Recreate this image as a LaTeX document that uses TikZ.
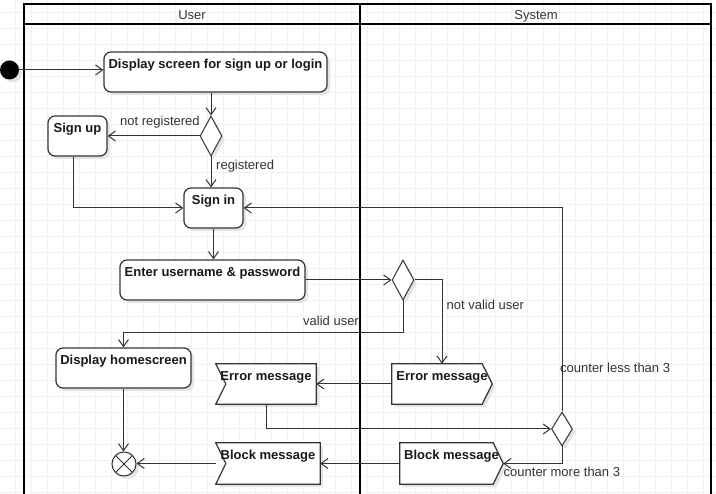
\documentclass[tikz,border=0pt]{standalone}
\usepackage{fontspec}
\setmainfont{Liberation Sans}
\usetikzlibrary{shapes.geometric,arrows.meta,shadows}
\pgfdeclarelayer{bg}
\pgfsetlayers{bg,main}
\definecolor{gridc}{HTML}{F1F1F1}
\definecolor{linec}{HTML}{333333}
\definecolor{txtc}{HTML}{333333}
\definecolor{shadc}{HTML}{E4E4E4}
\begin{document}
\begin{tikzpicture}[x=1pt,y=-1pt,
  font=\fontsize{13}{15}\selectfont,
  shad/.style={drop shadow={shadow xshift=3pt, shadow yshift=-3pt, fill=shadc, opacity=1}},
  act/.style={draw=linec, line width=1.2pt, fill=white, rounded corners=7pt, inner sep=0pt,
    font=\fontsize{13}{15}\selectfont\bfseries, text=black!90, text height=16.5pt, text depth=23.5pt, shad},
  sigtext/.style={inner sep=0pt, font=\fontsize{13}{15}\selectfont\bfseries, text=black!90, text height=16.5pt},
  dia/.style={diamond, draw=linec, line width=1pt, fill=white, inner sep=0pt, shad},
  endnode/.style={circle, draw=linec, line width=1pt, fill=white, minimum size=24pt, inner sep=0pt, shad,
    path picture={\draw[linec, line width=1pt] (path picture bounding box.north west) -- (path picture bounding box.south east)
      (path picture bounding box.north east) -- (path picture bounding box.south west);}},
  flow/.style={draw=linec, line width=1pt, -{Straight Barb[length=7pt,width=10pt,line width=1pt]}},
  lab/.style={text=txtc, inner sep=0pt, anchor=base west},
  sigline/.style={draw=linec, line width=1.2pt, fill=white},
  sigshadow/.style={fill=shadc, transform canvas={shift={(3pt,-3pt)}}}
]
\useasboundingbox (0,0) rectangle (716,494);
\begin{pgfonlayer}{bg}
  \fill[white] (0,0) rectangle (716,494);
  \foreach \i in {0,...,45} \draw[gridc, line width=1pt] (16*\i-0.3,0) -- (16*\i-0.3,494);
  \foreach \j in {0,...,30} \draw[gridc, line width=1pt] (0,12.3+16*\j) -- (716,12.3+16*\j);
  \draw[black, line width=2pt] (24,4) rectangle (711,500);
  \draw[black, line width=2pt] (24,24) -- (711,24);
  \draw[black, line width=2pt] (360,4) -- (360,500);
\end{pgfonlayer}

\node[text=txtc, anchor=base] (hUser) at (192,20) {User};
\node[text=txtc, anchor=base] (hSystem) at (536,20) {System};

\node[circle, fill=black, minimum size=19pt, inner sep=0pt, shad] (start) at (9.5,70) {};
\node[act, minimum width=223pt] (disp) at (215.5,72) {Display screen for sign up or login};
\node[dia, minimum width=22pt, minimum height=40pt] (d1) at (211,136) {};
\node[act, minimum width=59pt] (signup) at (77.5,136) {Sign up};
\node[act, minimum width=59pt] (signin) at (213.5,208) {Sign in};
\node[act, minimum width=185pt] (enter) at (212.5,280) {Enter username \& password};
\node[dia, minimum width=22pt, minimum height=40pt] (d2) at (403,280) {};
\node[act, minimum width=135pt] (home) at (123.5,368) {Display homescreen};

\node[sigtext, minimum width=100pt, text depth=23.5pt] (err2) at (442,384) {Error message};
\node[sigtext, minimum width=100pt, text depth=23.5pt] (err1) at (266,384) {Error message};
\node[dia, minimum width=21pt, minimum height=34pt] (d3) at (562,429) {};
\node[sigtext, minimum width=103pt, text depth=24.5pt] (blk2) at (451.5,463.5) {Block message};
\node[sigtext, minimum width=104pt, text depth=24.5pt] (blk1) at (268,463.5) {Block message};
\node[endnode] (endn) at (124,464) {};

\begin{pgfonlayer}{bg}
  % send signals (system lane)
  \foreach \n in {err2,blk2} {
    \fill[sigshadow] (\n.north west) -- ([xshift=-10pt]\n.north east) -- (\n.east) -- ([xshift=-10pt]\n.south east) -- (\n.south west) -- cycle;
    \path[sigline] (\n.north west) -- ([xshift=-10pt]\n.north east) -- (\n.east) -- ([xshift=-10pt]\n.south east) -- (\n.south west) -- cycle;
  }
  % receive signals (user lane)
  \foreach \n in {err1,blk1} {
    \fill[sigshadow] (\n.north west) -- (\n.north east) -- (\n.south east) -- (\n.south west) -- ([xshift=10pt]\n.west) -- cycle;
    \path[sigline] (\n.north west) -- (\n.north east) -- (\n.south east) -- (\n.south west) -- ([xshift=10pt]\n.west) -- cycle;
  }
\end{pgfonlayer}

\draw[flow] (start) -- (start -| disp.west);
\draw[flow] (d1.north |- disp.south) -- (d1.north);
\draw[flow] (d1.west) -- (d1.west -| signup.east);
\draw[flow] (d1.south) -- (d1.south |- signin.north);
\draw[flow] ([xshift=-4pt]signup.south) |- (signin.west);
\draw[flow] (signin.south) -- (signin.south |- enter.north);
\draw[flow] (enter.east) -- (d2.west);
\draw[flow] (d2.east) -| (err2.north);
\draw[flow] (d2.south) -- ++(0,32) -| (home.north);
\draw[flow] (err2.west) -- (err1.east);
\draw[flow] (err1.south) |- (d3.west);
\draw[flow] (d3.north) |- (signin.east);
\draw[flow] (d3.south) |- (blk2.east);
\draw[flow] (blk2.west) -- (blk1.east);
\draw[flow] (blk1.west) -- (blk1.west -| endn.east);
\draw[flow] (home.south) -- (home.south |- endn.north);

\node[lab] (lNotReg) at (120,126) {not registered};
\node[lab] (lReg) at (216,169.5) {registered};
\node[lab] (lNotValid) at (446.5,310) {not valid user};
\node[lab] (lValid) at (303,326) {valid user};
\node[lab] (lLess) at (560,373) {counter less than 3};
\node[lab] (lMore) at (503.5,476.5) {counter more than 3};
\end{tikzpicture}
\end{document}
